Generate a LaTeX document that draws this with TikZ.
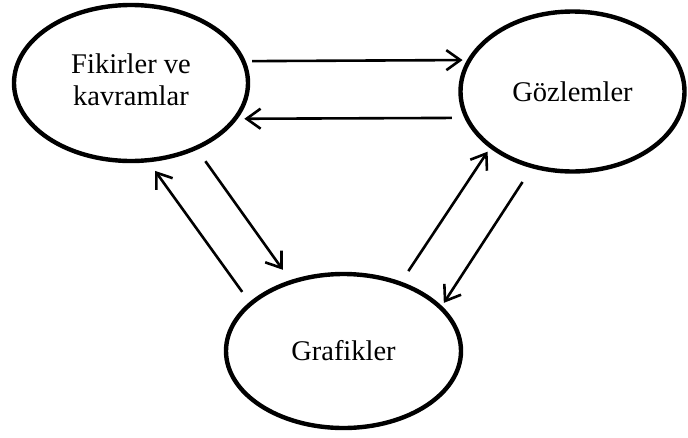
\documentclass[tikz,border=0pt]{standalone}
\usepackage{fontspec}
\setmainfont{Liberation Serif}
\usetikzlibrary{arrows.meta,shapes.geometric}
\begin{document}
\begin{tikzpicture}[x=1pt,y=1pt,
  bubble/.style={ellipse, draw, line width=4.4pt, inner sep=0pt, outer sep=0pt,
    font=\fontsize{28.5}{32}\selectfont, align=center},
  conn/.style={line width=2.6pt, -{Straight Barb[length=14pt,width=20pt]}}]
\useasboundingbox (0,0) rectangle (688,-437);
\node[bubble, minimum width=234pt, minimum height=156pt] (fik) at (131,-83)
  {\raisebox{4pt}{\begin{tabular}{@{}c@{}}Fikirler ve\\kavramlar\end{tabular}}};
\node[bubble, minimum width=224pt, minimum height=160pt] (goz) at (572.5,-91.5) {Gözlemler};
\node[bubble, minimum width=235pt, minimum height=154pt] (gra) at (343.5,-351) {Grafikler};
\draw[conn, shorten <=8.8pt, shorten >=7pt] (fik.11.09) -- (goz.163.58);
\draw[conn, shorten <=14.8pt, shorten >=9.4pt] (goz.194.07) -- (fik.341.5);
\draw[conn, shorten <=14.6pt, shorten >=13.1pt] (gra.153.9) -- (fik.282);
\draw[conn, shorten <=16.3pt, shorten >=15pt] (fik.315.5) -- (gra.127.6);
\draw[conn, shorten <=14.9pt, shorten >=6.3pt] (gra.50.3) -- (goz.214.3);
\draw[conn, shorten <=18.7pt, shorten >=5.8pt] (goz.242.4) -- (gra.24.65);
\end{tikzpicture}
\end{document}
